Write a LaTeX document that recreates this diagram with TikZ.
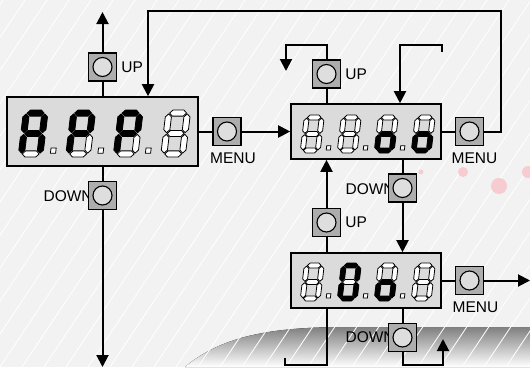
\documentclass[tikz,border=0pt]{standalone}
\usepackage{fontspec}
\setmainfont{Liberation Sans}
\usetikzlibrary{arrows.meta,positioning}

\pgfdeclarelayer{back}
\pgfsetlayers{back,main}

\colorlet{seg0}{white}
\colorlet{seg1}{black}
\definecolor{paper}{gray}{0.95}
\definecolor{shade}{gray}{0.85}
\definecolor{panel}{gray}{0.86}
\definecolor{keygray}{gray}{0.68}
\definecolor{keyface}{gray}{0.87}
\definecolor{dotpink}{RGB}{246,204,208}

\tikzset{
  disp/.style={draw, fill=panel, line width=1.6pt, inner sep=0pt},
  key/.style={draw, fill=keygray, line width=1.3pt, minimum size=28pt, inner sep=0pt,
    path picture={\draw[fill=keyface, line width=1.1pt]
      (path picture bounding box.center) circle (9.5pt);}},
  keylbl/.style={inner sep=0pt, font=\fontsize{15.5pt}{18pt}\selectfont},
  wire/.style={line width=2pt},
  arr/.style={-{Triangle[length=12pt,width=12pt]}},
}

\newcommand\hseg[2]{\filldraw[fill=seg#2] (1.65,#1) -- (2.95,#1+1.3) -- (7.55,#1+1.3)
  -- (8.85,#1) -- (7.55,#1-1.3) -- (2.95,#1-1.3) -- cycle;}
\newcommand\vseg[4]{\filldraw[fill=seg#4] (#1,#2) -- (#1+1.3,#2+1.3) -- (#1+1.3,#3-1.3)
  -- (#1,#3) -- (#1-1.3,#3-1.3) -- (#1-1.3,#2+1.3) -- cycle;}
\newcommand\segdigit[9]{%
  \begin{scope}[shift={#1}, x=#2, y=#2, xslant=0.12, line width=0.8pt, line join=round]
    \hseg{18.7}{#3}
    \vseg{9.2}{10.35}{18.35}{#4}
    \vseg{9.2}{1.65}{9.65}{#5}
    \hseg{1.3}{#6}
    \vseg{1.3}{1.65}{9.65}{#7}
    \vseg{1.3}{10.35}{18.35}{#8}
    \hseg{10}{#9}
  \end{scope}}
\newcommand\segdot[2]{%
  \begin{scope}[shift={#1}, x=#2, y=#2, xslant=0.12, line width=0.8pt]
    \filldraw[fill=white] (13.6,1.6) rectangle (15.8,3.8);
  \end{scope}}

\begin{document}
\begin{tikzpicture}

  \useasboundingbox (0pt,0pt) rectangle (530pt,-367pt);

  \begin{pgfonlayer}{back}
    \fill[paper] (0pt,0pt) rectangle (530pt,-367pt);
    \fill[shade] (185pt,-367pt) .. controls (225pt,-333pt) and (280pt,-327pt) .. (350pt,-327pt)
      -- (530pt,-327pt) -- (530pt,-367pt) -- cycle;
    \begin{scope}
      \clip (0pt,0pt) rectangle (530pt,-367pt);
      \foreach \k in {-12,...,24}
        \draw[white, line width=0.8pt] (\k*22pt,-367pt) -- ++(245pt,367pt);
    \end{scope}
    \fill[dotpink] (421pt,-172pt) circle (2.5pt);
    \fill[dotpink] (463pt,-172pt) circle (5pt);
    \fill[dotpink] (499pt,-186pt) circle (8pt);
    \fill[dotpink] (528pt,-172pt) circle (6pt);
  \end{pgfonlayer}

  \node[disp, minimum width=191pt, minimum height=69pt] (dA) at (102.5pt,-131.5pt) {};
  \node[disp, minimum width=150pt, minimum height=55pt] (dB) at (366pt,-131.5pt) {};
  \node[disp, minimum width=150pt, minimum height=55pt] (dC) at (366pt,-280.5pt) {};

  \node[key] (upA)   at (102.5pt,-67pt) {};
  \node[key] (downA) at (102.5pt,-195.5pt) {};
  \node[key] (menuA) at (227pt,-131.5pt) {};
  \node[key] (upB)   at (326.5pt,-74pt) {};
  \node[key] (downB) at (402.5pt,-188pt) {};
  \node[key] (menuB) at (469.5pt,-131.5pt) {};
  \node[key] (upC)   at (326.5pt,-222.5pt) {};
  \node[key] (downC) at (402.5pt,-337.5pt) {};
  \node[key] (menuC) at (469.5pt,-280.5pt) {};

  \node[keylbl, right=4pt of upA] (upAl) {UP};
  \node[keylbl, right=4pt of upB] (upBl) {UP};
  \node[keylbl, right=4pt of upC] (upCl) {UP};
  \node[keylbl, below=6pt of menuA, xshift=6pt] (menuAl) {MENU};
  \node[keylbl, below=6pt of menuB, xshift=5pt] (menuBl) {MENU};
  \node[keylbl, below=6pt of menuC, xshift=6pt] (menuCl) {MENU};
  \begin{pgfonlayer}{back}
    \node[keylbl, left=-5pt of downA, yshift=-1pt] (downAl) {DOWN};
    \node[keylbl, left=-7pt of downB, yshift=-1pt] (downBl) {DOWN};
    \node[keylbl, left=-7pt of downC] (downCl) {DOWN};
  \end{pgfonlayer}

  \segdigit{(18pt,-157pt)}{2.35pt}{1}{1}{1}{0}{1}{1}{1}
  \segdigit{(65.5pt,-157pt)}{2.35pt}{1}{1}{0}{0}{1}{1}{1}
  \segdigit{(113pt,-157pt)}{2.35pt}{1}{1}{0}{0}{1}{1}{1}
  \segdigit{(160.5pt,-157pt)}{2.35pt}{0}{0}{0}{0}{0}{0}{0}
  \foreach \x in {18,65.5,113}
    \segdot{(\x pt,-157pt)}{2.35pt};

  \segdigit{(300pt,-153pt)}{1.9pt}{0}{0}{0}{0}{0}{0}{0}
  \segdigit{(337pt,-153pt)}{1.9pt}{0}{0}{0}{0}{0}{0}{0}
  \segdigit{(374pt,-153pt)}{1.9pt}{0}{0}{1}{1}{1}{0}{1}
  \segdigit{(411pt,-153pt)}{1.9pt}{0}{0}{1}{1}{1}{0}{1}
  \foreach \x in {300,337,374}
    \segdot{(\x pt,-153pt)}{1.9pt};

  \segdigit{(300pt,-301pt)}{1.9pt}{0}{0}{0}{0}{0}{0}{0}
  \segdigit{(337pt,-301pt)}{1.9pt}{1}{1}{1}{1}{1}{1}{0}
  \segdigit{(374pt,-301pt)}{1.9pt}{0}{0}{1}{1}{1}{0}{1}
  \segdigit{(411pt,-301pt)}{1.9pt}{0}{0}{0}{0}{0}{0}{0}
  \foreach \x in {300,337,374}
    \segdot{(\x pt,-301pt)}{1.9pt};

  \coordinate (upAend)   at (102.5pt,-12pt);
  \coordinate (downAend) at (102.5pt,-367pt);
  \coordinate (loopTR)   at (501pt,-11pt);
  \coordinate (loopTL)   at (148pt,-11pt);
  \coordinate (upBbend)  at (286pt,-45pt);
  \coordinate (upBend)   at (286pt,-71pt);
  \coordinate (stubB)    at (442pt,-52pt);
  \coordinate (dropB)    at (400pt,-45pt);
  \coordinate (cutL)     at (285pt,-365pt);
  \coordinate (cutR)     at (443pt,-365pt);
  \coordinate (riseC)    at (443pt,-339pt);
  \coordinate (outC)     at (530pt,-280.5pt);

  \draw[wire] (dA.north -| upA) -- (upA.south);
  \draw[wire, arr] (upA.north) -- (upAend);
  \draw[wire] (dA.south -| downA) -- (downA.north);
  \draw[wire, arr] (downA.south) -- (downAend);
  \draw[wire] (dA.east) -- (menuA.west);
  \draw[wire, arr] (menuA.east) -- (dB.west);
  \draw[wire] (dB.east) -- (menuB.west);
  \draw[wire, arr] (menuB.east) -| (loopTR) -- (loopTL) -- (dA.north -| loopTL);

  \draw[wire] (dB.north -| upB) -- (upB.south);
  \draw[wire, arr] (upB.north) |- (upBbend) -- (upBend);
  \draw[wire, arr] (stubB) |- (dropB) -- (dB.north -| dropB);
  \draw[wire] (dB.south -| downB) -- (downB.north);
  \draw[wire, arr] (downB.south) -- (dC.north -| downB);

  \draw[wire] (dC.north -| upC) -- (upC.south);
  \draw[wire, arr] (upC.north) -- (dB.south -| upC);
  \draw[wire] (dC.south -| upC) |- (cutL) -- ++(0pt,7pt);
  \draw[wire] (dC.south -| downC) -- (downC.north);
  \draw[wire, arr] (downC.south) |- (cutR) -- (riseC);
  \draw[wire] (dC.east) -- (menuC.west);
  \draw[wire, arr] (menuC.east) -- (outC);

\end{tikzpicture}
\end{document}
